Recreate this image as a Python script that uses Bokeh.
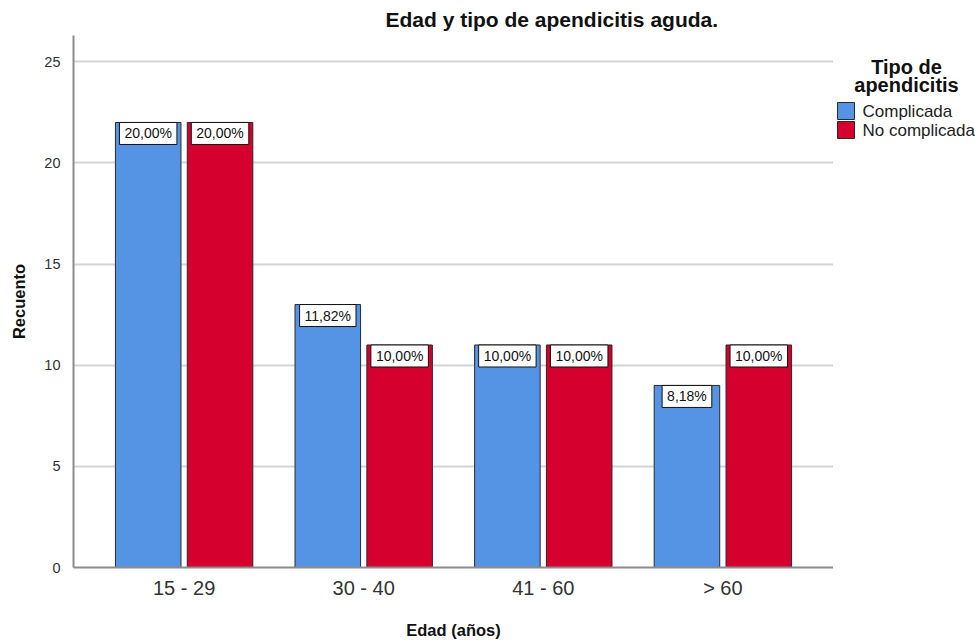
from bokeh.plotting import figure
from bokeh.layouts import row
from bokeh.models import ColumnDataSource, FactorRange, Range1d, FixedTicker
from bokeh.core.properties import value
from bokeh.transform import dodge
from bokeh.embed import file_html
from bokeh.resources import INLINE

# Patients per age group and type of acute appendicitis
groups = ["15 - 29", "30 - 40", "41 - 60", "> 60"]
complicada = [22, 13, 11, 9]
no_complicada = [22, 11, 11, 11]
series_names = ["Complicada", "No complicada"]
legend_title = ["Tipo de", "apendicitis"]
y_ticks = [0, 5, 10, 15, 20, 25]

total = sum(complicada) + sum(no_complicada)


def pct(v):
    return f"{v / total * 100:.2f}".replace(".", ",") + "%"


src = ColumnDataSource(dict(
    group=groups,
    c=complicada,
    n=no_complicada,
    c_lab=[pct(v) for v in complicada],
    n_lab=[pct(v) for v in no_complicada],
))

FONT = "Liberation Sans"
BLUE = "#5594e4"
RED = "#d5002e"
EDGE = "#2a2a2a"

TOP, FRAME_H = 35, 532

p = figure(frame_width=760, frame_height=FRAME_H,
           x_range=FactorRange(*groups, range_padding=0.058),
           y_range=Range1d(0, 26.3),
           output_backend="svg", toolbar_location=None,
           min_border_left=73, min_border_right=0,
           min_border_top=TOP, min_border_bottom=74)

p.title.text = "Edad y tipo de apendicitis aguda."
p.title.text_font = FONT
p.title.text_font_size = "21px"
p.title.text_font_style = "bold"
p.title.text_color = "#111111"
p.title.align = "left"
p.title.offset = 312

off = 0.2
bw = 0.365
p.vbar(x=dodge("group", -off, range=p.x_range), top="c", width=bw, source=src,
       fill_color=BLUE, line_color=EDGE, line_width=1)
p.vbar(x=dodge("group", off, range=p.x_range), top="n", width=bw, source=src,
       fill_color=RED, line_color=EDGE, line_width=1)

# percentage boxes hanging from the top of each bar
for col, lab, dx in (("c", "c_lab", -off), ("n", "n_lab", off)):
    p.text(x=dodge("group", dx, range=p.x_range), y=col, text=lab, source=src,
           text_font=value(FONT), text_font_size="14px", text_color="#111111",
           text_align="center", text_baseline="top", y_offset=0,
           background_fill_color="white", border_line_color="#111111",
           border_line_width=1, padding=(5, 3))

# axes
p.yaxis.ticker = FixedTicker(ticks=y_ticks)
p.yaxis.axis_label = "Recuento"
p.xaxis.axis_label = "Edad (años)"
for ax in (p.xaxis[0], p.yaxis[0]):
    ax.axis_label_text_font = FONT
    ax.axis_label_text_font_size = "16.5px"
    ax.axis_label_text_font_style = "bold"
    ax.axis_label_text_color = "#111111"
    ax.major_label_text_font = FONT
    ax.major_label_text_color = "#333333"
    ax.axis_line_color = "#8c8c8c"
    ax.axis_line_width = 2
    ax.major_tick_line_color = None
    ax.minor_tick_line_color = None
p.yaxis.major_label_text_font_size = "14.5px"
p.xaxis.major_label_text_font_size = "20px"
p.yaxis.major_label_standoff = 7
p.xaxis.major_label_standoff = 3
p.yaxis.axis_label_standoff = 13
p.xaxis.axis_label_standoff = 19

p.xgrid.grid_line_color = None
p.ygrid.grid_line_color = "#d4d4d4"
p.ygrid.grid_line_width = 2
p.outline_line_color = None

# legend panel on the right; its frame is aligned with the chart frame in the
# row, so the y range is expressed in page pixels (growing downward)
lg = figure(width=142, height=641, x_range=Range1d(0, 142),
            y_range=Range1d(TOP + FRAME_H, TOP),
            output_backend="svg", toolbar_location=None,
            x_axis_type=None, y_axis_type=None, min_border=0)
lg.title = None
lg.outline_line_color = None
lg.grid.visible = False

lg.text(x=[73, 73], y=[66, 84], text=legend_title,
        text_font=value(FONT), text_font_size="20px", text_font_style="bold",
        text_color="#111111", text_align="center", text_baseline="alphabetic")

key_top = [102, 121]
lg.quad(left=4, right=21, top=key_top, bottom=[t + 17 for t in key_top],
        fill_color=[BLUE, RED], line_color=EDGE, line_width=1)
lg.text(x=29, y=[t + 8.5 for t in key_top], text=series_names,
        text_font=value(FONT), text_font_size="17px", text_color="#222222",
        text_align="left", text_baseline="middle")

layout = row(p, lg, spacing=0)
open("out.html", "w").write(file_html(layout, INLINE))
